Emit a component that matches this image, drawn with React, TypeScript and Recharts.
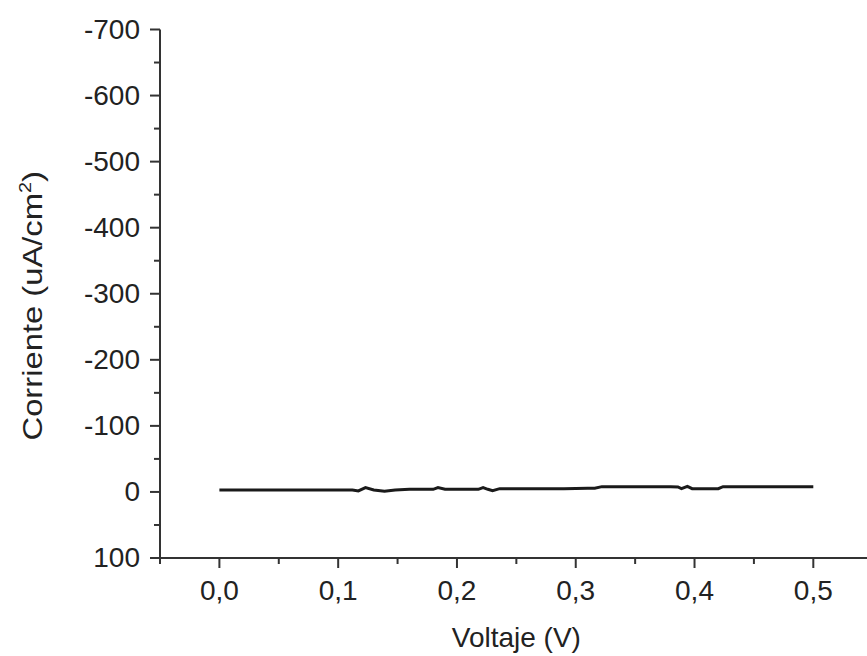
import { LineChart, Line, XAxis, YAxis, Label } from "recharts";

// voltage (V) and current density (uA/cm2)
const voltage = [
  0, 0.02, 0.04, 0.06, 0.08, 0.1, 0.112, 0.117, 0.123, 0.13, 0.139, 0.148,
  0.16, 0.17, 0.18, 0.184, 0.19, 0.2, 0.21, 0.218, 0.222, 0.226, 0.23, 0.236,
  0.25, 0.27, 0.29, 0.31, 0.316, 0.322, 0.34, 0.36, 0.38, 0.386, 0.389,
  0.394, 0.398, 0.41, 0.42, 0.424, 0.44, 0.46, 0.48, 0.5,
];
const current = [
  -3, -3, -3, -3, -3, -3, -3, -1.5, -6.5, -3, -1, -3, -4, -4, -4, -6.5, -4, -4,
  -4, -4, -6.5, -4, -2, -5, -5, -5, -5, -5.5, -5.5, -8, -8, -8, -8, -7.5,
  -5, -8.5, -5, -5, -5, -8, -8, -8, -8, -8,
];

const xTicks = [
  -0.05, 0, 0.05, 0.1, 0.15, 0.2, 0.25, 0.3, 0.35, 0.4, 0.45, 0.5, 0.55,
];
const yTicks = [
  -700, -650, -600, -550, -500, -450, -400, -350, -300, -250, -200, -150,
  -100, -50, 0, 50, 100,
];

const data = voltage.map((v, i) => ({ v, i: current[i] }));

const FONT = "'Liberation Sans', Arial, sans-serif";
const AXIS = "#333";
const TXT = "#222";

function XTick(props: any) {
  const { x, y, payload } = props;
  const v = payload.value as number;
  const major = Math.abs(v * 10 - Math.round(v * 10)) < 1e-6;
  return (
    <g>
      <line x1={x} x2={x} y1={y} y2={y + (major ? 10 : 6)} stroke={AXIS} strokeWidth={2} />
      {major && (
        <text x={x} y={y + 42} textAnchor="middle" fontSize={28} fontFamily={FONT} fill={TXT}>
          {v.toFixed(1).replace(".", ",")}
        </text>
      )}
    </g>
  );
}

function YTick(props: any) {
  const { x, y, payload } = props;
  const v = payload.value as number;
  const major = v % 100 === 0;
  return (
    <g>
      <line x1={x - (major ? 10 : 6)} x2={x} y1={y} y2={y} stroke={AXIS} strokeWidth={2} />
      {major && (
        <text x={x - 20} y={y} dy="0.33em" textAnchor="end" fontSize={28} fontFamily={FONT} fill={TXT}>
          {String(v)}
        </text>
      )}
    </g>
  );
}

export default function App() {
  return (
    <div
      style={{
        position: "fixed",
        left: 0,
        top: 0,
        width: 867,
        height: 656,
        overflow: "hidden",
        background: "#fff",
        fontFamily: FONT,
      }}
    >
      <LineChart
        width={900}
        height={656}
        data={data}
        margin={{ top: 29.5, right: 27.3, bottom: 0, left: 0 }}
      >
        <XAxis
          dataKey="v"
          type="number"
          domain={[-0.05, 0.55]}
          ticks={xTicks}
          interval={0}
          height={98}
          tickSize={0}
          tickMargin={0}
          tickLine={false}
          tick={<XTick />}
          axisLine={{ stroke: AXIS, strokeWidth: 2 }}
        >
          <Label
            content={(p: any) => (
              <text
                x={p.viewBox.x + p.viewBox.width / 2}
                y={p.viewBox.y + 89}
                textAnchor="middle"
                fontSize={28}
                fontFamily={FONT}
                fill={TXT}
              >
                Voltaje (V)
              </text>
            )}
          />
        </XAxis>
        <YAxis
          type="number"
          domain={[-700, 100]}
          reversed
          ticks={yTicks}
          interval={0}
          width={160}
          tickSize={0}
          tickMargin={0}
          tickLine={false}
          tick={<YTick />}
          axisLine={{ stroke: AXIS, strokeWidth: 2 }}
        >
          <Label
            content={(p: any) => {
              const cx = 42;
              const cy = p.viewBox.y + p.viewBox.height / 2 + 12;
              return (
                <text
                  x={0}
                  y={0}
                  transform={`translate(${cx}, ${cy}) rotate(-90) scale(1.17, 1)`}
                  textAnchor="middle"
                  fontSize={28}
                  fontFamily={FONT}
                  fill={TXT}
                >
                  Corriente (uA/cm
                  <tspan dy={-11} fontSize={17}>2</tspan>
                  <tspan dy={11}>)</tspan>
                </text>
              );
            }}
          />
        </YAxis>
        <Line
          dataKey="i"
          type="linear"
          stroke="#1a1a1a"
          strokeWidth={3}
          dot={false}
          isAnimationActive={false}
        />
      </LineChart>
    </div>
  );
}
